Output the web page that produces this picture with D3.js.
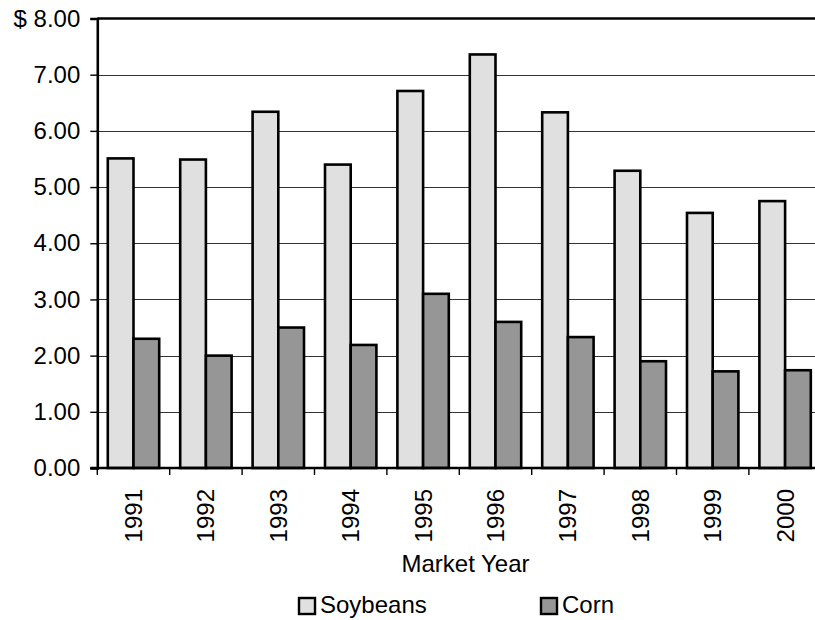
<!DOCTYPE html>
<html>
<head>
<meta charset="utf-8">
<script src="https://cdn.jsdelivr.net/npm/d3@7"></script>
<style>
  html, body { margin: 0; padding: 0; background: #fff; }
  svg { display: block; font-family: Arial, "Liberation Sans", sans-serif; }
</style>
</head>
<body>
<div id="chart"></div>
<script>
// Market-year average prices, dollars per bushel
const years = ["1991", "1992", "1993", "1994", "1995", "1996", "1997", "1998", "1999", "2000"];
const seriesNames = ["Soybeans", "Corn"];
const soybeans = [5.51, 5.49, 6.34, 5.40, 6.71, 7.36, 6.33, 5.29, 4.54, 4.75];
const corn = [2.30, 2.00, 2.50, 2.19, 3.10, 2.60, 2.33, 1.90, 1.72, 1.74];
const yTicks = [0, 1, 2, 3, 4, 5, 6, 7, 8];
const yTickLabels = ["0.00", "1.00", "2.00", "3.00", "4.00", "5.00", "6.00", "7.00", "$ 8.00"];
const fills = ["#e0e0e0", "#969696"];

const W = 815, H = 620;
const plotLeft = 97.3, plotRight = 821.3, plotTop = 18.5, plotBottom = 468;
const fontSize = 24;

const svg = d3.select("#chart").append("svg")
  .attr("width", W).attr("height", H);

const pad = 0.29;
const x = d3.scaleBand().domain(years).range([plotLeft, plotRight])
  .paddingInner(pad).paddingOuter(pad / 2);
const xs = d3.scaleBand().domain(seriesNames).range([0, x.bandwidth()]);
const y = d3.scaleLinear().domain([0, 8]).range([plotBottom, plotTop]);

// horizontal gridlines
svg.append("g").selectAll("line")
  .data(yTicks.filter(d => d > 0 && d < 8))
  .join("line")
  .attr("x1", plotLeft).attr("x2", W)
  .attr("y1", d => Math.round(y(d)) + 0.5).attr("y2", d => Math.round(y(d)) + 0.5)
  .attr("stroke", "#333").attr("stroke-width", 1.2);

// top border
svg.append("line")
  .attr("x1", plotLeft).attr("x2", W)
  .attr("y1", plotTop).attr("y2", plotTop)
  .attr("stroke", "#000").attr("stroke-width", 2.4);

// bars
const rows = years.map((yr, i) => ({ year: yr, values: [soybeans[i], corn[i]] }));
const groups = svg.append("g").selectAll("g")
  .data(rows).join("g")
  .attr("transform", d => `translate(${x(d.year)},0)`);
groups.selectAll("rect")
  .data(d => d.values.map((v, k) => ({ name: seriesNames[k], v, k })))
  .join("rect")
  .attr("x", d => xs(d.name))
  .attr("width", xs.bandwidth())
  .attr("y", d => y(d.v))
  .attr("height", d => y(0) - y(d.v))
  .attr("fill", d => fills[d.k])
  .attr("stroke", "#000").attr("stroke-width", 2.6);

// y axis
const yAxis = d3.axisLeft(y).tickValues(yTicks)
  .tickFormat((d, i) => yTickLabels[i]).tickSize(7).tickPadding(10);
const gy = svg.append("g").attr("transform", `translate(${plotLeft},0)`).call(yAxis);
gy.select(".domain").attr("stroke", "#000").attr("stroke-width", 2.6);
gy.selectAll(".tick line").attr("stroke", "#000").attr("stroke-width", 1.4);
gy.selectAll(".tick text").attr("font-size", fontSize).attr("fill", "#000")
  .attr("font-family", "Arial, 'Liberation Sans', sans-serif");

// x axis: ticks fall on category boundaries
const step = x.step();
const boundaries = d3.range(years.length + 1).map(i => plotLeft + i * step);
svg.append("g").selectAll("line").data(boundaries).join("line")
  .attr("x1", d => d).attr("x2", d => d)
  .attr("y1", plotBottom).attr("y2", plotBottom + 7)
  .attr("stroke", "#000").attr("stroke-width", 1.4);
svg.append("line")
  .attr("x1", plotLeft - 7).attr("x2", W)
  .attr("y1", plotBottom).attr("y2", plotBottom)
  .attr("stroke", "#000").attr("stroke-width", 2.6);

// year labels, rotated
svg.append("g").selectAll("text").data(years).join("text")
  .attr("transform", d => `translate(${x(d) + x.bandwidth() / 2},489) rotate(-90)`)
  .attr("text-anchor", "end")
  .attr("dy", "0.35em")
  .attr("font-size", fontSize)
  .text(d => d);

// axis title
svg.append("text")
  .attr("x", 465.5).attr("y", 572)
  .attr("text-anchor", "middle")
  .attr("font-size", fontSize)
  .text("Market Year");

// legend
const legendX = [299, 541];
const legend = svg.append("g").selectAll("g").data(seriesNames).join("g")
  .attr("transform", (d, i) => `translate(${legendX[i]},598)`);
legend.append("rect")
  .attr("width", 16).attr("height", 16)
  .attr("fill", (d, i) => fills[i])
  .attr("stroke", "#000").attr("stroke-width", 2.4);
legend.append("text")
  .attr("x", 21).attr("y", 15)
  .attr("font-size", fontSize)
  .text(d => d);
</script>
</body>
</html>
